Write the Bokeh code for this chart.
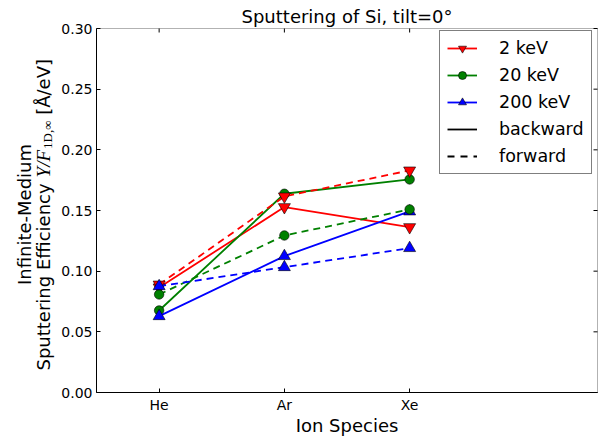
import math
from bokeh.plotting import figure
from bokeh.models import (Range1d, FixedTicker, PrintfTickFormatter, LinearAxis,
                          Label, Legend, LegendItem, BoxAnnotation)
from bokeh.embed import file_html
from bokeh.resources import INLINE

# ---------------- data ----------------
species = ["He", "Ar", "Xe"]
energy_labels = ["2 keV", "20 keV", "200 keV"]
backward_2keV = [0.0866, 0.1528, 0.1363]
forward_2keV = [0.0890, 0.1616, 0.1830]
backward_20keV = [0.0676, 0.1638, 0.1756]
forward_20keV = [0.0808, 0.1294, 0.1509]
backward_200keV = [0.0629, 0.1124, 0.1492]
forward_200keV = [0.0876, 0.1033, 0.1190]
y_ticks = [0.00, 0.05, 0.10, 0.15, 0.20, 0.25, 0.30]
direction_labels = ["backward", "forward"]

x = list(range(len(species)))

# ---------------- layout geometry (canvas pixels) ----------------
W, H = 607, 436
XMIN, XMAX = -0.5, 3.5          # visible axes limits
YMIN, YMAX = 0.0, 0.30
BOX_L, BOX_R, BOX_T, BOX_B = 96.0, 597.0, 28.0, 392.0   # plot box on canvas
PXX = (BOX_R - BOX_L) / (XMAX - XMIN)
PXY = (BOX_B - BOX_T) / (YMAX - YMIN)
BASE_SHIFT = 5.0   # renderer places alphabetic baseline a few px lower


def dx(px):
    return XMIN + (px - BOX_L) / PXX


def dy(py):
    return YMIN + (BOX_B - py) / PXY


# frame covers the full canvas
p = figure(width=W, height=H, output_backend="svg", toolbar_location=None,
           x_range=Range1d(dx(0), dx(W)), y_range=Range1d(dy(H), dy(0)),
           x_axis_location=None, y_axis_location=None,
           min_border=0)
p.xgrid.visible = False
p.ygrid.visible = False
p.outline_line_color = None
p.background_fill_color = "white"
p.border_fill_color = "white"

FONT = "DejaVu Sans"


def style_axis(ax, ticks):
    ax.ticker = FixedTicker(ticks=ticks)
    ax.major_tick_in = 4
    ax.major_tick_out = 0
    ax.minor_tick_in = 0
    ax.minor_tick_out = 0
    ax.axis_line_color = "black"
    ax.major_tick_line_color = "black"
    ax.major_label_text_font = FONT
    ax.major_label_text_color = "black"
    ax.major_label_text_font_size = "14px"
    ax.major_label_standoff = 4


xa = LinearAxis(fixed_location=YMIN, bounds=(XMIN, XMAX))
style_axis(xa, x)
xa.major_label_overrides = {i: s for i, s in enumerate(species)}
p.add_layout(xa, "below")
ya = LinearAxis(fixed_location=XMIN, bounds=(YMIN, YMAX))
style_axis(ya, y_ticks)
ya.formatter = PrintfTickFormatter(format="%.2f")
p.add_layout(ya, "left")

# plot box
p.add_layout(BoxAnnotation(left=XMIN, right=XMAX, bottom=YMIN, top=YMAX,
                           fill_alpha=0, line_color="black", line_width=1,
                           level="overlay"))
# mirrored inward ticks on top and right sides
TICK = 4
p.segment(x0=x, y0=[YMAX] * len(x), x1=x, y1=[YMAX - TICK / PXY] * len(x),
          line_color="black", line_width=1)
p.segment(x0=[XMAX] * len(y_ticks), y0=y_ticks,
          x1=[XMAX - TICK / PXX] * len(y_ticks), y1=y_ticks,
          line_color="black", line_width=1)

# ---------------- series ----------------
colors = ["#ff0000", "#008000", "#0000ff"]
markers = ["inverted_triangle", "circle", "triangle"]
sizes = [12, 9.5, 12]
backward = [backward_2keV, backward_20keV, backward_200keV]
forward = [forward_2keV, forward_20keV, forward_200keV]

LW = 1.8
DASH = "7 5"
energy_items = []
for yb, c, m, s, lab in zip(backward, colors, markers, sizes, energy_labels):
    rl = p.line(x, yb, line_color=c, line_width=LW)
    rs = p.scatter(x, yb, marker=m, size=s, fill_color=c, line_color="black",
                   line_width=0.6)
    energy_items.append(LegendItem(label=lab, renderers=[rl, rs]))
for yf, c, m, s in zip(forward, colors, markers, sizes):
    p.line(x, yf, line_color=c, line_width=LW, line_dash=DASH)
    p.scatter(x, yf, marker=m, size=s, fill_color=c, line_color="black",
              line_width=0.6)

nan = float("nan")
dummy_solid = p.line([nan], [nan], line_color="black", line_width=LW)
dummy_dash = p.line([nan], [nan], line_color="black", line_width=LW,
                    line_dash="7 6")

LEG_LEFT, LEG_BOTTOM = 439, 174
legend = Legend(items=energy_items + [
    LegendItem(label=direction_labels[0], renderers=[dummy_solid]),
    LegendItem(label=direction_labels[1], renderers=[dummy_dash])],
    location=(LEG_LEFT, H - LEG_BOTTOM))
legend.margin = 0
legend.padding = 7
legend.spacing = 7
legend.glyph_width = 30
legend.glyph_height = 20
legend.label_height = 20
legend.label_standoff = 22
legend.label_text_font = FONT
legend.label_text_font_size = "17.5px"
legend.label_text_color = "black"
legend.border_line_color = "black"
legend.border_line_width = 1
legend.background_fill_color = "white"
legend.background_fill_alpha = 1.0
p.add_layout(legend)

# ---------------- texts (title, axis labels) ----------------
MID_X = (XMIN + XMAX) / 2
p.add_layout(Label(x=MID_X, y=dy(21 - BASE_SHIFT), text="Sputtering of Si, tilt=0°",
                   text_align="center", text_baseline="alphabetic",
                   text_font=FONT, text_font_size="18px", text_color="black"))
p.add_layout(Label(x=MID_X, y=dy(430 - BASE_SHIFT), text="Ion Species",
                   text_align="center", text_baseline="alphabetic",
                   text_font=FONT, text_font_size="18px", text_color="black"))

ang = math.pi / 2
p.add_layout(Label(x=dx(29 - BASE_SHIFT), y=dy(214), text="Infinite-Medium",
                   angle=ang, text_align="center", text_baseline="alphabetic",
                   text_font=FONT, text_font_size="18px", text_color="black"))

L2 = 48 - BASE_SHIFT
start = 370.0
p.add_layout(Label(x=dx(L2), y=dy(start), text="Sputtering Efficiency",
                   angle=ang, text_align="left", text_baseline="alphabetic",
                   text_font=FONT, text_font_size="18px", text_color="black"))
pos = start - 193.1
p.add_layout(Label(x=dx(L2), y=dy(pos), text="Y/F", angle=ang,
                   text_align="left", text_baseline="alphabetic",
                   text_font="Liberation Serif", text_font_style="italic",
                   text_font_size="19px", text_color="black"))
pos -= 28.5
p.add_layout(Label(x=dx(L2 + 4), y=dy(pos), text="1D,∞", angle=ang,
                   text_align="left", text_baseline="alphabetic",
                   text_font="Liberation Serif", text_font_size="13px",
                   text_color="black"))
pos -= 28.4 + 5.7
p.add_layout(Label(x=dx(L2), y=dy(pos), text="[Å/eV]", angle=ang,
                   text_align="left", text_baseline="alphabetic",
                   text_font=FONT, text_font_size="18px", text_color="black"))

open("out.html", "w").write(file_html(p, INLINE))
